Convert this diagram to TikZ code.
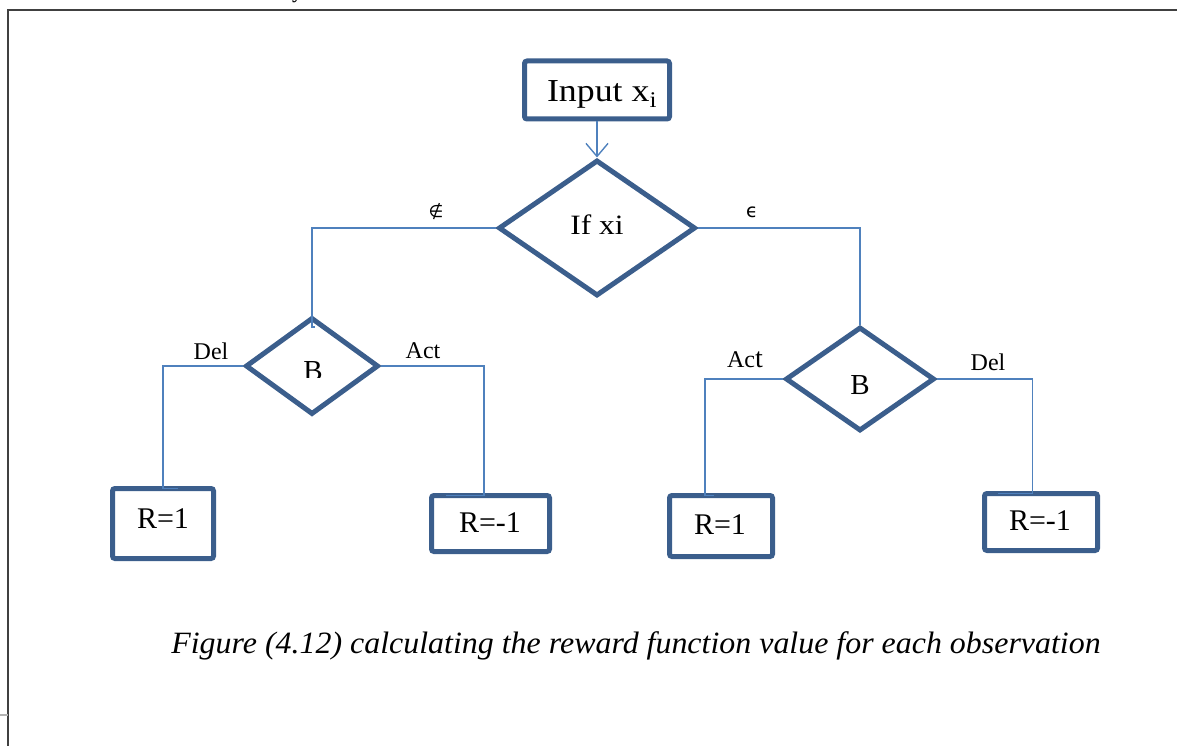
\documentclass[tikz,border=0pt]{standalone}
\usepackage{fontspec}
\setmainfont{Liberation Serif}
\newfontfamily\symfont{DejaVu Sans}
\newfontfamily\widefont[FakeStretch=1.12]{Liberation Serif}
\newfontfamily\capfont[FakeStretch=1.03]{Liberation Serif}
\usetikzlibrary{shapes.geometric,arrows.meta,calc}
\definecolor{boxblue}{RGB}{59,94,140}
\definecolor{linkblue}{RGB}{79,129,189}
\definecolor{framegray}{RGB}{64,64,64}
\begin{document}
\begin{tikzpicture}[x=1pt,y=-1pt,
  box/.style={draw=boxblue,line width=5pt,rounded corners=2.5pt,inner sep=0pt},
  result/.style={font=\fontsize{30}{30}\selectfont,inner sep=0pt},
  decision/.style={draw=boxblue,line width=5pt,diamond,inner sep=0pt},
  link/.style={draw=linkblue,line width=1.4pt},
  lbl/.style={font=\fontsize{24}{24}\selectfont,inner sep=0pt},
  frame/.style={draw=framegray,line width=1.8pt}]
\useasboundingbox (0,0) rectangle (1177,746);

% page frame
\draw[frame] (1185,10) -- (8,10) -- (8,755);
\draw[gray!60,line width=1.5pt] (0,715) -- (8,715);
\node[anchor=base,inner sep=0pt,font=\bfseries\fontsize{20}{20}\selectfont] (ytop) at (297,-1) {y};

% start box
\node[box,minimum width=145pt,minimum height=58pt] (in) at (597,90) {};
\node[font=\widefont\fontsize{32}{32}\selectfont] (intext) at (602,94) {Input x\textsubscript{i}};

% decisions
\node[decision,minimum width=197pt,minimum height=136pt] (if) at (597,228) {};
\node[font=\widefont\fontsize{28}{28}\selectfont] (iftext) at (597,225) {If xi};

\node[decision,minimum width=133pt,minimum height=97pt] (b1) at (312,366) {};
\begin{scope}
  \clip (280,340) rectangle (345,377);
  \node[font=\fontsize{29}{29}\selectfont,inner sep=0pt] (b1text) at (313,371) {B};
\end{scope}

\node[decision,minimum width=149pt,minimum height=104pt] (b2) at (860,379) {};
\node[font=\fontsize{29}{29}\selectfont] (b2text) at (860,385) {B};

% results
\node[box,minimum width=101pt,minimum height=70pt] (r1) at (163,523.5) {};
\node[box,minimum width=118pt,minimum height=56pt] (r2) at (490.5,523.5) {};
\node[box,minimum width=103pt,minimum height=61pt] (r3) at (721,526) {};
\node[box,minimum width=113pt,minimum height=57pt] (r4) at (1041,522) {};
\node[result] (r1text) at (163,519) {R=1};
\node[result] (r2text) at (490,523) {R=-1};
\node[result] (r3text) at (720,525) {R=1};
\node[result] (r4text) at (1040,521) {R=-1};

% entry points on the result boxes
\coordinate (r1in) at ($(r1.north)+(0,2.5)$);
\coordinate (r2in) at ($(r2.north)+(-6.5,2.5)$);
\coordinate (r3in) at ($(r3.north)+(-16,2.5)$);
\coordinate (r4in) at ($(r4.north)+(-8.5,2.5)$);
\coordinate (b1in) at ($(b1.north)+(0,12)$);

% connectors
\draw[link,-{Straight Barb[length=13pt,width=22pt,line width=1.4pt]}] (in.south) -- (if.north);
\draw[link] (if.west) -| (b1in) -- ++(3,0);
\draw[link] (if.east) -| (b2.north);
\draw[link] (b1.west) -| (r1in) -- ++(15,0);
\draw[link] (b1.east) -| (r2in) -- ++(-38,0);
\draw[link] (b2.west) -| (r3in) -- ++(9,0);
\draw[link] (b2.east) -| (r4in) -- ++(-35,0);

% branch labels
\node[lbl,font=\symfont\fontsize{17}{17}\selectfont] (notin) at (436,212) {∉};
\node[lbl,font=\symfont\fontsize{19}{19}\selectfont] (isin) at (752,212) {ϵ};
\node[lbl] (del1) at (211,351) {Del};
\node[lbl] (act1) at (423,351) {Act};
\node[lbl] (act2) at (745,360) {Ac\fontsize{28}{28}\selectfont t};
\node[lbl] (del2) at (988,362) {Del};

% caption
\node[font=\capfont\itshape\fontsize{31}{31}\selectfont,inner sep=0pt] (cap) at (636,646)
  {Figure (4.12) calculating the reward function value for each observation};
\end{tikzpicture}
\end{document}
